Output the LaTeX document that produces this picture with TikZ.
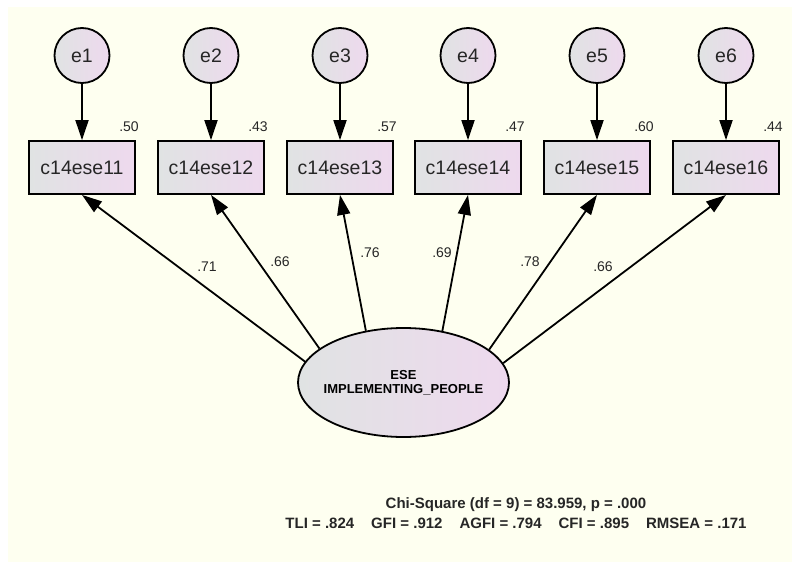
\documentclass[tikz,border=0pt]{standalone}
\usepackage{fontspec}
\setmainfont{Liberation Sans}
\usetikzlibrary{arrows.meta,shapes.geometric}
\definecolor{paper}{RGB}{254,255,240}
\definecolor{shadeL}{RGB}{224,227,227}
\definecolor{shadeR}{RGB}{238,217,238}
\tikzset{
  obsbox/.style={draw=black, line width=1.8pt, left color=shadeL, right color=shadeR,
    minimum width=106pt, minimum height=53pt, inner sep=0pt,
    font=\fontsize{19.5}{22}\selectfont, text=black!85},
  errnode/.style={circle, draw=black, line width=1.8pt, left color=shadeL, right color=shadeR,
    minimum size=55pt, inner sep=0pt, font=\fontsize{19.5}{22}\selectfont, text=black!85},
  latent/.style={ellipse, draw=black, line width=1.8pt, left color=shadeL, right color=shadeR,
    minimum width=211pt, minimum height=109pt, inner sep=0pt},
  latentlabel/.style={align=center, inner sep=0pt, font=\bfseries\fontsize{13}{14}\selectfont},
  path/.style={line width=1.8pt, -{Triangle[length=20pt,width=13pt]}},
  coef/.style={font=\fontsize{14}{16}\selectfont, text=black!85, inner sep=0pt},
  fitstat/.style={font=\bfseries\fontsize{15}{17}\selectfont, text=black!85, inner sep=0pt}
}
\begin{document}
\begin{tikzpicture}[x=1pt,y=-1pt]
  % page and background
  \fill[white] (0,0) rectangle (792,562);
  \fill[paper] (8,7) rectangle (792,562);
  \useasboundingbox (0,0) rectangle (792,562);

  % latent factor
  \node[latent] (F) at (403.5,382.5) {};
  \node[latentlabel] (Ftext) at (403.5,383) {ESE\\IMPLEMENTING\_PEOPLE};

  % indicators, their error terms and loadings
  \foreach \i/\x/\r in {1/82/.50, 2/211/.43, 3/340/.57, 4/468/.47, 5/597/.60, 6/726/.44} {
    \node[errnode] (e\i) at (\x,55.5) {e\i};
    \node[obsbox] (v\i) at (\x,167.5) {c14ese1\i};
    \node[coef] (r\i) at (\x+47,127) {\r};
    \draw[path] (e\i) -- (v\i);
  }

  % factor loadings
  \draw[path] (F.168.4) -- (v1.south);
  \draw[path] (F.158.3) -- (v2.south);
  \draw[path] (F.126.3) -- (v3.south);
  \draw[path] (F.53.7)  -- (v4.south);
  \draw[path] (F.21.7)  -- (v5.south);
  \draw[path] (F.11.6)  -- (v6.south);

  \node[coef] (l1) at (207,267) {.71};
  \node[coef] (l2) at (280,262) {.66};
  \node[coef] (l3) at (370,253) {.76};
  \node[coef] (l4) at (442,253) {.69};
  \node[coef] (l5) at (530,262) {.78};
  \node[coef] (l6) at (603,267) {.66};

  % fit statistics
  \node[fitstat] (chi) at (516,505) {Chi-Square (df = 9) = 83.959, p = .000};
  \node[fitstat] (fit) at (516,523) {TLI = .824\hspace{17pt}GFI = .912\hspace{17pt}AGFI = .794\hspace{17pt}CFI = .895\hspace{17pt}RMSEA = .171};
\end{tikzpicture}
\end{document}
